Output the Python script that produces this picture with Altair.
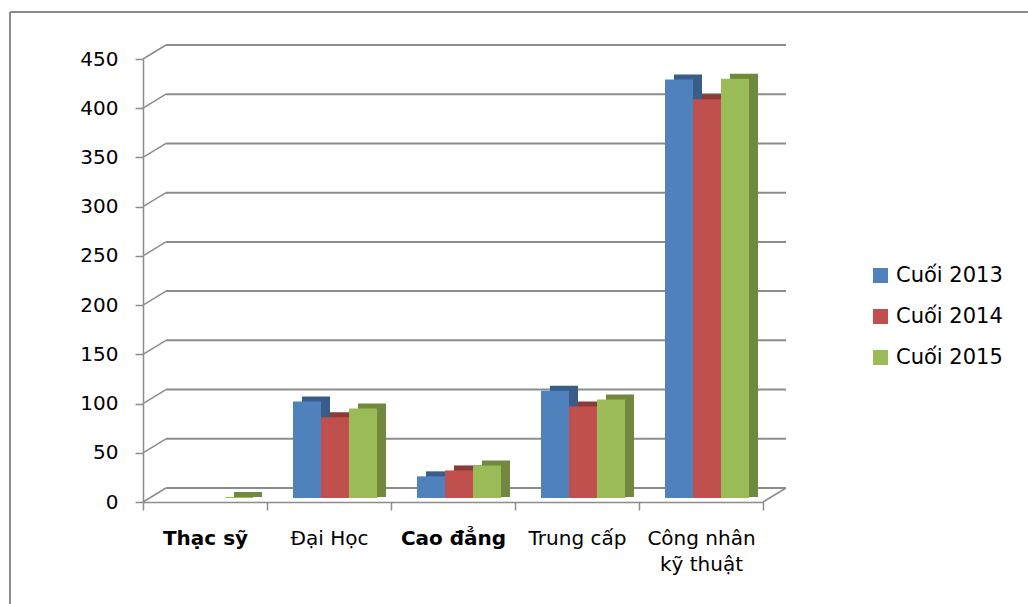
import altair as alt
import pandas as pd

categories = ["Thạc sỹ", "Đại Học", "Cao đẳng", "Trung cấp", "Công nhân|kỹ thuật"]
series = ["Cuối 2013", "Cuối 2014", "Cuối 2015"]
v2013 = [None, 98, 22, 109, 425]
v2014 = [None, 82, 28, 93, 405]
v2015 = [1, 91, 33, 100, 426]
y_ticks = [0, 50, 100, 150, 200, 250, 300, 350, 400, 450]

rows = []
for s, vals in zip(series, [v2013, v2014, v2015]):
    for c, v in zip(categories, vals):
        if v is not None:
            rows.append({"cat": c, "series": s, "value": v})
df = pd.DataFrame(rows)
grid_df = pd.DataFrame({"v": y_ticks})
zero_df = pd.DataFrame({"v": [0]})

front_colors = ["#4F81BD", "#C0504D", "#9BBB59"]
side_colors = ["#385D8A", "#8C3A38", "#71893F"]
GRID = "#8c8c8c"

W, H = 620, 443
DX, DY = 9, -5      # bar depth offset
WX, WY = 23, -14    # wall depth offset
BASE = -4           # bars sit slightly above the front floor edge
G0, G1 = 26, 110    # group extent inside each category band

y_axis = alt.Axis(values=y_ticks, tickSize=8, tickColor=GRID, tickWidth=1.5,
                  domainColor=GRID, domainWidth=1.5, labelFont="DejaVu Sans",
                  labelFontSize=20, labelPadding=17, labelColor="black",
                  grid=False, title=None)
y_scale = alt.Scale(domain=[0, 450], nice=False, zero=True)

x_axis = alt.Axis(tickBand="extent", tickSize=8, tickColor=GRID, tickWidth=1.5,
                  domainColor=GRID, domainWidth=1.5, labelFont="DejaVu Sans",
                  labelFontSize=20, labelLineHeight=26, labelPadding=18,
                  labelColor="black", labelAngle=0, title=None,
                  labelExpr="split(datum.label, '|')",
                  labelFontWeight={"condition": {"test": "datum.value == 'Thạc sỹ' || datum.value == 'Cao đẳng'",
                                                 "value": "bold"}, "value": "normal"})
x_scale = alt.Scale(domain=categories, paddingInner=0, paddingOuter=0)
xo_front = alt.Scale(domain=series, paddingInner=0, paddingOuter=0, range=[G0, G1])
xo_side = alt.Scale(domain=series, paddingInner=0, paddingOuter=0, range=[G0 + DX, G1 + DX])

# chart frame
frame_top = alt.Chart(zero_df).mark_rule(color=GRID, strokeWidth=2).encode(
    x=alt.value(-133), x2=alt.value(890), y=alt.value(-47))
frame_left = alt.Chart(zero_df).mark_rule(color=GRID, strokeWidth=2).encode(
    x=alt.value(-133), y=alt.value(-47), y2=alt.value(560))

# back wall grid lines
wall = alt.Chart(grid_df).mark_rule(color=GRID, strokeWidth=2, yOffset=WY).encode(
    x=alt.value(WX), x2=alt.value(W + WX),
    y=alt.Y("v:Q", scale=y_scale, axis=y_axis))
diag = alt.Chart(grid_df).mark_rule(color=GRID, strokeWidth=1.5, y2Offset=WY).encode(
    x=alt.value(0), x2=alt.value(WX),
    y=alt.Y("v:Q", scale=y_scale, axis=y_axis), y2="v:Q")
floor_diag = alt.Chart(zero_df).mark_rule(color=GRID, strokeWidth=1.5, y2Offset=WY).encode(
    x=alt.value(W), x2=alt.value(W + WX),
    y=alt.Y("v:Q", scale=y_scale, axis=y_axis), y2="v:Q")

side = alt.Chart(df).mark_bar(yOffset=BASE + DY, y2Offset=BASE - 1).encode(
    x=alt.X("cat:N", sort=categories, scale=x_scale, axis=x_axis),
    xOffset=alt.XOffset("series:N", sort=series, scale=xo_side),
    y=alt.Y("value:Q", scale=y_scale, axis=y_axis),
    y2=alt.datum(0),
    color=alt.Color("series:N", sort=series, scale=alt.Scale(domain=series, range=side_colors), legend=None))

front = alt.Chart(df).mark_bar(yOffset=BASE, y2Offset=BASE).encode(
    x=alt.X("cat:N", sort=categories, scale=x_scale, axis=x_axis),
    xOffset=alt.XOffset("series:N", sort=series, scale=xo_front),
    y=alt.Y("value:Q", scale=y_scale, axis=y_axis),
    y2=alt.datum(0),
    color=alt.Color("series:N", sort=series, scale=alt.Scale(domain=series, range=front_colors),
                    legend=alt.Legend(orient="none", legendX=727, legendY=206, title=None,
                                      symbolType="square", symbolSize=225, symbolStrokeWidth=0,
                                      labelFont="DejaVu Sans", labelFontSize=21, labelColor="black",
                                      labelOffset=5, rowPadding=19, padding=0)))

chart = alt.layer(frame_top, frame_left, wall, diag, floor_diag, side, front).resolve_scale(
    color="independent", xOffset="independent"
).properties(
    width=W, height=H,
    autosize=alt.AutoSizeParams(type="none"),
    padding={"left": 143, "top": 59, "right": 265, "bottom": 102},
    background="white",
).configure_view(stroke=None)

chart.save("out.html", embed_options={"renderer": "svg", "actions": False})
